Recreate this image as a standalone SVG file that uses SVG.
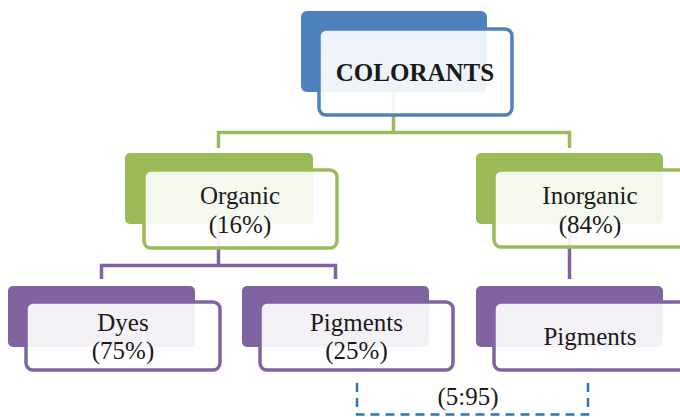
<svg xmlns="http://www.w3.org/2000/svg" width="680" height="417" viewBox="0 0 680 417">
<style>
.t{font-family:"Liberation Serif",serif;font-size:25px;fill:#1a1a1a;text-anchor:middle}
.b{font-weight:bold}
.fr{fill:#ffffff;fill-opacity:0.9;stroke-width:3.5}
.blue .bk{fill:#4f81bd}.blue .fr{stroke:#4f81bd}
.green .bk{fill:#9bbb59}.green .fr{stroke:#9bbb59}
.purple .bk{fill:#8064a2}.purple .fr{stroke:#8064a2}
.cg{fill:none;stroke:#9bbb59;stroke-width:3.5}
.cp{fill:none;stroke:#8064a2;stroke-width:3.5}
.cd{fill:none;stroke:#2e75b6;stroke-width:2.5;stroke-dasharray:9,6}
</style>
<rect width="680" height="417" fill="#ffffff"/>
<g id="connectors">
<path class="cg" d="M393.5 92 V132.5 M218.5 148 V132.5 H569.5 V148"/>
<path class="cp" d="M218.5 224 V265.5 M101.5 279 V265.5 H335.5 V279"/>
<path class="cp" d="M569.5 224 V279"/>
<path class="cd" d="M357 383 V414.5 H588 V383"/>
</g>
<g id="colorants" class="blue">
<rect class="bk" x="301" y="11" width="186" height="81" rx="6"/>
<rect class="fr" x="319" y="29" width="193" height="86" rx="7"/>
<text class="t b" x="415" y="81">COLORANTS</text>
</g>
<g id="organic" class="green">
<rect class="bk" x="125" y="153" width="188" height="71" rx="5"/>
<rect class="fr" x="144" y="170" width="193" height="78" rx="7"/>
<text class="t" x="240" y="204">Organic</text>
<text class="t" x="240" y="233">(16%)</text>
</g>
<g id="inorganic" class="green">
<rect class="bk" x="476" y="153" width="187" height="71" rx="5"/>
<rect class="fr" x="494" y="170" width="193" height="77" rx="7"/>
<text class="t" x="590" y="204">Inorganic</text>
<text class="t" x="590" y="233">(84%)</text>
</g>
<g id="dyes" class="purple">
<rect class="bk" x="8" y="286" width="187" height="61" rx="5"/>
<rect class="fr" x="26" y="302" width="194" height="68" rx="7"/>
<text class="t" x="123" y="331">Dyes</text>
<text class="t" x="123" y="359">(75%)</text>
</g>
<g id="pigments-organic" class="purple">
<rect class="bk" x="242" y="286" width="187" height="61" rx="5"/>
<rect class="fr" x="260" y="302" width="193" height="68" rx="7"/>
<text class="t" x="356.5" y="331">Pigments</text>
<text class="t" x="356.5" y="359">(25%)</text>
</g>
<g id="pigments-inorganic" class="purple">
<rect class="bk" x="476" y="286" width="187" height="61" rx="5"/>
<rect class="fr" x="494" y="302" width="193" height="68" rx="7"/>
<text class="t" x="590" y="345">Pigments</text>
</g>
<g id="ratio">
<text class="t" x="468" y="405">(5:95)</text>
</g>
</svg>
